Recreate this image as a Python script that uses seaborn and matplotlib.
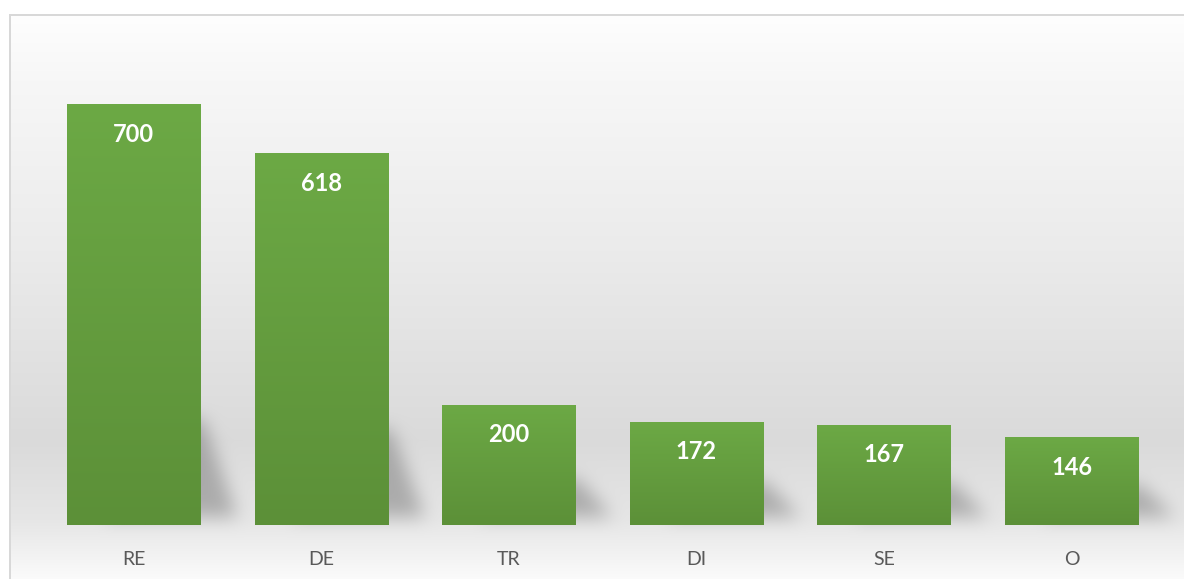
import numpy as np
import matplotlib
matplotlib.use("Agg")
import matplotlib.pyplot as plt
import seaborn as sns
import pandas as pd
from matplotlib.path import Path

categories = ["RE", "DE", "TR", "DI", "SE", "O"]
values = [700, 618, 200, 172, 167, 146]

W, H = 1184, 579
sns.set_theme(style="white")
plt.rcParams["font.family"] = ["Lato", "DejaVu Sans"]

fig = plt.figure(figsize=(W / 100, H / 100), dpi=100)
fig.patch.set_facecolor("white")

# background axes (figure pixel coordinates, top origin)
bg = fig.add_axes([0, 0, 1, 1], zorder=0)
bg.set_xlim(0, W)
bg.set_ylim(H, 0)
bg.axis("off")

# main axes
ax = fig.add_axes([39.7 / W, 54 / H, 1125.6 / W, 511 / H], zorder=1)
ax.patch.set_alpha(0)
df = pd.DataFrame({"cat": categories, "val": values})
sns.barplot(data=df, x="cat", y="val", ax=ax, width=0.709, color="#66a040",
            saturation=1, edgecolor="none", zorder=2)
ax.set_xlim(-0.5, 5.5)
ax.set_ylim(0, 850)

# background gradient + shadows
yy = np.arange(H)
stops_y = [0, 14, 80, 250, 440, 520, 579]
stops_v = [254, 254, 247, 235, 218, 230, 251]
col = np.interp(yy, stops_y, stops_v) / 255.0
img = np.repeat(col[:, None], W, axis=1)

# shadow mask
XX, YY = np.meshgrid(np.arange(W) + 0.5, np.arange(H) + 0.5)
pts = np.column_stack([XX.ravel(), YY.ravel()])
mask = np.zeros(H * W)
for p in ax.patches:
    x0, x1 = p.get_x(), p.get_x() + p.get_width()
    hval = p.get_height()
    (px0, pyb), (px1, pyt) = ax.transData.transform([(x0, 0), (x1, hval)])
    pyb = H - pyb
    pyt = H - pyt
    w = px1 - px0
    hpx = pyb - pyt
    hs = 22 + 0.2 * hpx
    poly = Path([(px0 + 0.3 * w, pyb - 8), (px1 + 0.28 * w, pyb - 8),
                 (px1 + 0.02 * w, pyb - hs), (px0 + 0.3 * w, pyb - hs)])
    mask = np.maximum(mask, poly.contains_points(pts).astype(float))
mask = mask.reshape(H, W)


def box_blur(a, r, axis):
    c = np.cumsum(np.pad(a, [(r + 1, r) if i == axis else (0, 0) for i in range(2)], mode="edge"), axis=axis)
    if axis == 0:
        return (c[2 * r + 1:] - c[:-2 * r - 1]) / (2 * r + 1)
    return (c[:, 2 * r + 1:] - c[:, :-2 * r - 1]) / (2 * r + 1)


for _ in range(3):
    mask = box_blur(mask, 8, 0)
    mask = box_blur(mask, 8, 1)

img = img * (1 - 0.24 * mask)
# white outside the frame
img[:14, :] = 1.0
img[:, :9] = 1.0
rgb = np.dstack([img, img, img])
# frame lines
rgb[14:16, 9:, :] = 0.85
rgb[14:, 9:11, :] = 0.85
bg.imshow(rgb, extent=[0, W, H, 0], aspect="auto", interpolation="bilinear")
bg.set_xlim(0, W)
bg.set_ylim(H, 0)

# bar gradients
top_c = np.array([0x6c, 0xa9, 0x45]) / 255
bot_c = np.array([0x5c, 0x90, 0x38]) / 255
t = np.linspace(0, 1, 128)[:, None]
grad = (top_c * (1 - t) + bot_c * t)[:, None, :]
for p in list(ax.patches):
    x0, w, hval = p.get_x(), p.get_width(), p.get_height()
    im = ax.imshow(grad, extent=[x0, x0 + w, 0, hval], aspect="auto", zorder=3,
                   origin="upper", interpolation="bilinear")
    im.set_clip_path(p)
ax.set_xlim(-0.5, 5.5)
ax.set_ylim(0, 850)

for i, v in enumerate(values):
    ax.annotate(str(v), (i, v), xytext=(0, -21.5), textcoords="offset points",
                ha="center", va="center", color="white", fontsize=17,
                fontweight="bold", zorder=5)

ax.set_xlabel("")
ax.set_ylabel("")
ax.set_yticks([])
ax.tick_params(axis="x", length=0, pad=19, labelsize=14, labelcolor="#595959")
for s in ax.spines.values():
    s.set_visible(False)

fig.savefig("out.png", dpi=100)
